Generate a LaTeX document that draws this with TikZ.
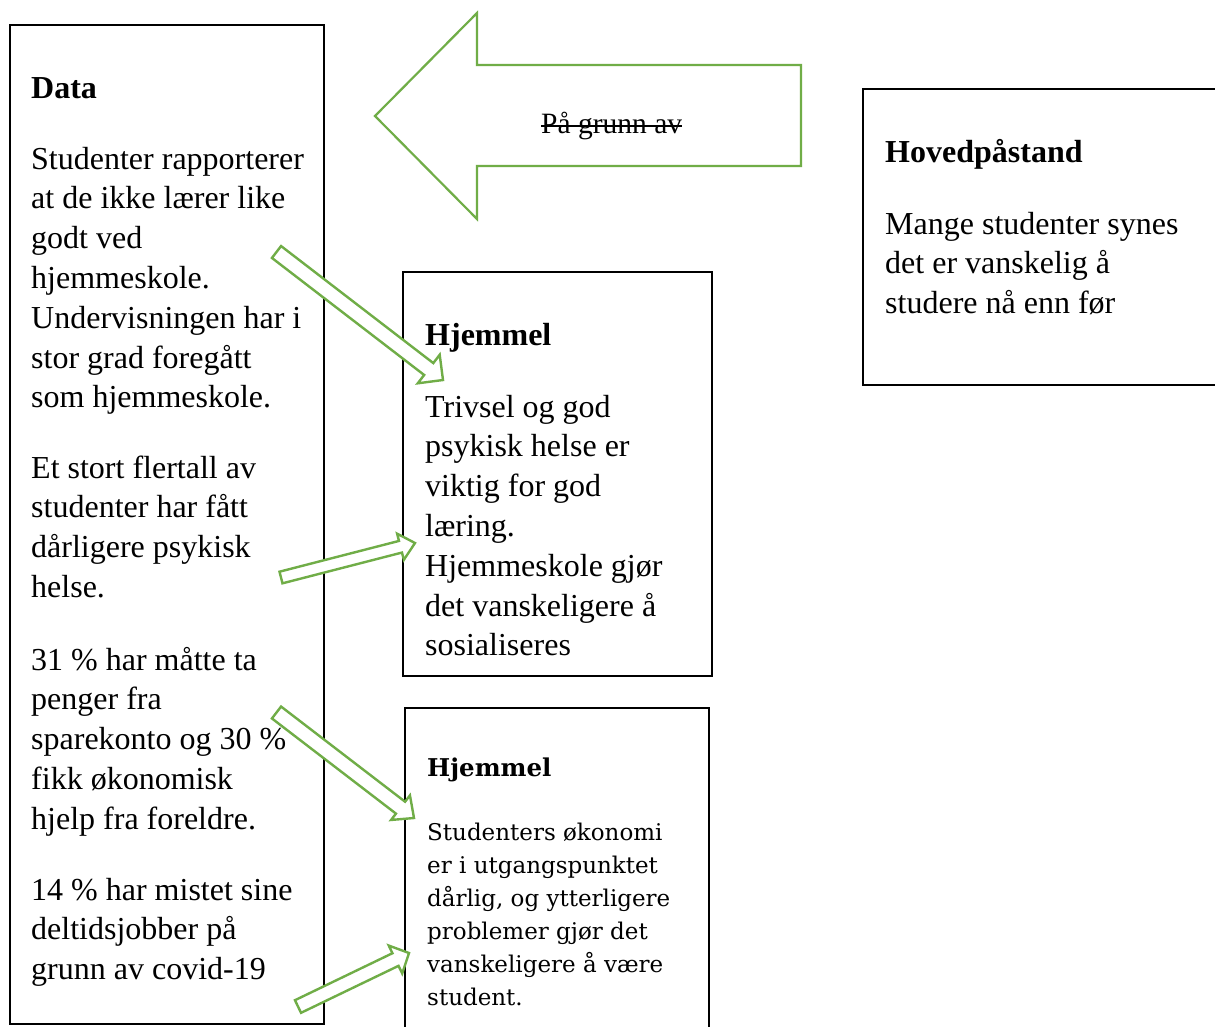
\documentclass[tikz,border=0pt]{standalone}
\usepackage{fontspec}
\setmainfont{Liberation Serif}
\newfontfamily\widserif{DejaVu Serif}
\usetikzlibrary{calc}
\definecolor{arrowgreen}{HTML}{70AD47}

% hollow block arrow: tail, tip, shaft half width, head half width, head length
\newcommand\blockarrow[5]{%
  \draw[greenline]
    ($(#1)!#3!90:(#2)$) --
    ($(#2)!#5!(#1)!#3!90:(#2)$) --
    ($(#2)!#5!(#1)!#4!90:(#2)$) --
    (#2) --
    ($(#2)!#5!(#1)!#4!-90:(#2)$) --
    ($(#2)!#5!(#1)!#3!-90:(#2)$) --
    ($(#1)!#3!-90:(#2)$) -- cycle;}

\begin{document}
\begin{tikzpicture}[x=1pt,y=-1pt,
  box/.style={draw=black, line width=1.6pt},
  greenline/.style={draw=arrowgreen, line width=2.4pt, line join=miter, fill=white},
  % multi-line texts are placed by the baseline of their last line
  body/.style={anchor=base west, inner sep=0pt, align=left,
    font=\fontsize{32}{39.8}\selectfont},
  head/.style={anchor=base west, inner sep=0pt,
    font=\fontsize{32}{39.8}\selectfont\bfseries},
  labeltext/.style={anchor=base west, inner sep=0pt,
    font=\fontsize{29.5}{36}\selectfont},
  altbody/.style={anchor=base west, inner sep=0pt, align=left,
    font=\widserif\fontsize{23}{33}\selectfont},
  althead/.style={anchor=base west, inner sep=0pt,
    font=\widserif\fontsize{24.5}{33}\selectfont\bfseries}]

\useasboundingbox (0,0) rectangle (1215,1026);
\fill[white] (0,0) rectangle (1215,1026);
\clip (0,0) rectangle (1215,1026);

% frames
\draw[box] (10,25) rectangle (324,1024);
\draw[box] (863,89) rectangle (1240,385);
\draw[box] (403,272) rectangle (712,676);
\draw[box] (405,708) rectangle (709,1060);

% big left arrow
\draw[greenline, line width=2.2pt] (375,116) -- (477,13) -- (477,65) -- (801,65)
  -- (801,166) -- (477,166) -- (477,219) -- cycle;
\node[labeltext] (pga) at (541,133) {På grunn av};
\draw[line width=2pt] ($(pga.base west)+(0,7.5pt)$) -- ($(pga.base east)+(0,7.5pt)$);

% Data column
\node[head] (dhead) at (31,98) {Data};
\node[body] (d1) at (31,407.8) {Studenter rapporterer\\at de ikke lærer like\\godt ved\\hjemmeskole.\\Undervisningen har i\\stor grad foregått\\som hjemmeskole.};
\node[body] (d2) at (31,597.4) {Et stort flertall av\\studenter har fått\\dårligere psykisk\\helse.};
\node[body] (d3) at (31,829.2) {31 \% har måtte ta\\penger fra\\sparekonto og 30 \%\\fikk økonomisk\\hjelp fra foreldre.};
\node[body] (d4) at (31,979.6) {14 \% har mistet sine\\deltidsjobber på\\grunn av covid-19};

% main claim
\node[head] (hhead) at (885,162) {Hovedpåstand};
\node[body] (h1) at (885,313.6) {Mange studenter synes\\det er vanskelig å\\studere nå enn før};

% first warrant
\node[head] (w1head) at (425,345) {Hjemmel};
\node[body] (w1) at (425,655.8) {Trivsel og god\\psykisk helse er\\viktig for god\\læring.\\Hjemmeskole gjør\\det vanskeligere å\\sosialiseres};

% second warrant
\node[althead] (w2head) at (427,776) {Hjemmel};
\node[altbody] (w2) at (427,1005) {Studenters økonomi\\er i utgangspunktet\\dårlig, og ytterligere\\problemer gjør det\\vanskeligere å være\\student.};

% links from data to warrants
\coordinate (a1t) at (276.5,252);  \coordinate (a1h) at (443,380);
\coordinate (a2t) at (281,577.5);  \coordinate (a2h) at (415,543);
\coordinate (a3t) at (276.5,712.5); \coordinate (a3h) at (414,818);
\coordinate (a4t) at (298,1006.5); \coordinate (a4h) at (409,953);
\blockarrow{a1t}{a1h}{7.5pt}{18pt}{18pt}
\blockarrow{a2t}{a2h}{6pt}{13.5pt}{15pt}
\blockarrow{a3t}{a3h}{7.5pt}{15.5pt}{17pt}
\blockarrow{a4t}{a4h}{7pt}{15.5pt}{15pt}
\end{tikzpicture}
\end{document}
